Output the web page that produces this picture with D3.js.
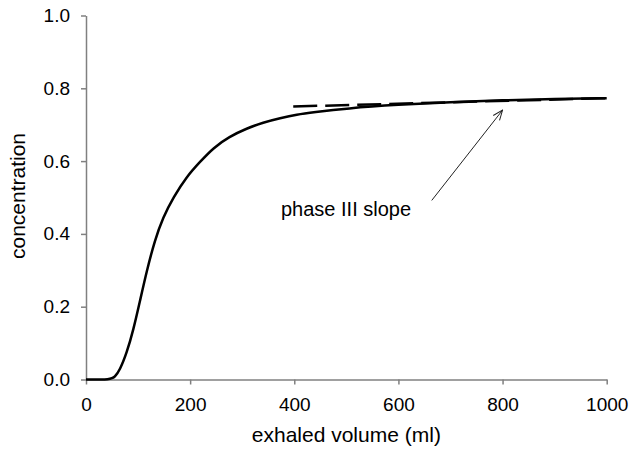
<!DOCTYPE html>
<html>
<head>
<meta charset="utf-8">
<script src="https://cdn.jsdelivr.net/npm/d3@7"></script>
<style>
  body { margin: 0; background: #fff; }
  text { font-family: Arial, 'Liberation Sans', sans-serif; fill: #000; }
</style>
</head>
<body>
<div id="chart"></div>
<script>
// exhaled volume (ml) vs concentration
const volume = [0, 48, 55, 65, 78, 91, 104, 117, 132, 148, 168, 193, 219, 245, 275, 309, 340, 373, 405, 436, 500, 600, 700, 800, 900, 1000];
const concentration = [0, 0, 0.006, 0.026, 0.072, 0.136, 0.218, 0.300, 0.382, 0.446, 0.501, 0.557, 0.598, 0.637, 0.667, 0.690, 0.706, 0.718, 0.728, 0.734, 0.745, 0.755, 0.762, 0.767, 0.771, 0.773];

// phase III slope fit line
const slopeVolume = [398, 1000];
const slopeConc = [0.750, 0.773];

// annotation arrow: [text end, arrow tip]
const arrowVolume = [664, 800];
const arrowConc = [0.492, 0.74];

const xTicks = [0, 200, 400, 600, 800, 1000];
const yTicks = [0, 0.2, 0.4, 0.6, 0.8, 1.0];

const W = 631, H = 459;
const margin = { left: 86, right: 24.3, top: 15.5, bottom: 79.5 };

const svg = d3.select('#chart').append('svg')
  .attr('width', W)
  .attr('height', H);

const x = d3.scaleLinear().domain([0, 1000]).range([margin.left, W - margin.right]);
const y = d3.scaleLinear().domain([0, 1]).range([H - margin.bottom, margin.top]);

const axisColor = '#808080';

const xAxis = svg.append('g')
  .attr('transform', 'translate(0,' + (H - margin.bottom) + ')')
  .call(d3.axisBottom(x).tickValues(xTicks).tickSizeOuter(0).tickSizeInner(5).tickPadding(13).tickFormat(d3.format('d')));

const yAxis = svg.append('g')
  .attr('transform', 'translate(' + margin.left + ',0)')
  .call(d3.axisLeft(y).tickValues(yTicks).tickSizeOuter(0).tickSizeInner(5).tickPadding(11).tickFormat(d3.format('.1f')));

[xAxis, yAxis].forEach(g => {
  g.select('.domain').attr('stroke', axisColor).attr('stroke-width', 1.5);
  g.selectAll('.tick line').attr('stroke', axisColor).attr('stroke-width', 1.5);
  g.selectAll('.tick text')
    .style('font-family', 'Arial, "Liberation Sans", sans-serif')
    .style('font-size', '19px')
    .attr('fill', '#000');
});

// axis titles
svg.append('text')
  .attr('x', (margin.left + W - margin.right) / 2)
  .attr('y', 441.5)
  .attr('text-anchor', 'middle')
  .style('font-size', '21px')
  .text('exhaled volume (ml)');

svg.append('text')
  .attr('transform', 'translate(25,196) rotate(-90)')
  .attr('text-anchor', 'middle')
  .style('font-size', '21px')
  .text('concentration');

// main curve
const pts = volume.map((v, i) => [v, concentration[i]]);
const line = d3.line()
  .x(d => x(d[0]))
  .y(d => y(d[1]))
  .curve(d3.curveBasis);

svg.append('path')
  .datum(pts)
  .attr('d', line)
  .attr('fill', 'none')
  .attr('stroke', '#000')
  .attr('stroke-width', 2.5);

// dashed phase III slope line
svg.append('path')
  .datum(slopeVolume.map((v, i) => [v, slopeConc[i]]))
  .attr('d', d3.line().x(d => x(d[0])).y(d => y(d[1])))
  .attr('fill', 'none')
  .attr('stroke', '#000')
  .attr('stroke-width', 2.5)
  .attr('stroke-dasharray', '24,8');

// arrow
svg.append('defs').append('marker')
  .attr('id', 'arrowhead')
  .attr('viewBox', '0 0 12 12')
  .attr('refX', 11)
  .attr('refY', 6)
  .attr('markerWidth', 12)
  .attr('markerHeight', 12)
  .attr('markerUnits', 'userSpaceOnUse')
  .attr('orient', 'auto')
  .append('path')
  .attr('d', 'M1,2 L11,6 L1,10')
  .attr('fill', 'none')
  .attr('stroke', '#222')
  .attr('stroke-width', 1);

svg.append('line')
  .attr('x1', x(arrowVolume[0]))
  .attr('y1', y(arrowConc[0]))
  .attr('x2', x(arrowVolume[1]))
  .attr('y2', y(arrowConc[1]))
  .attr('stroke', '#222')
  .attr('stroke-width', 1)
  .attr('marker-end', 'url(#arrowhead)');

svg.append('text')
  .attr('x', 281)
  .attr('y', 216)
  .style('font-size', '20px')
  .text('phase III slope');
</script>
</body>
</html>
